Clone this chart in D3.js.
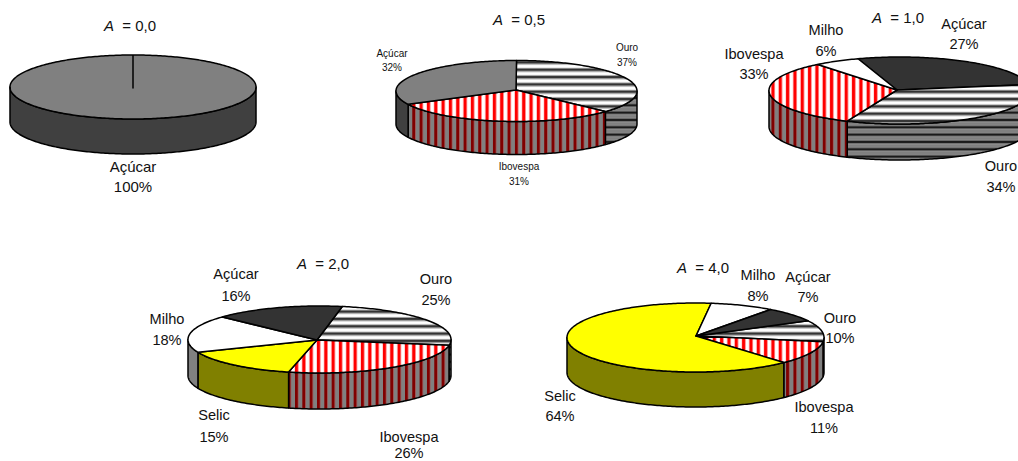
<!DOCTYPE html>
<html><head><meta charset="utf-8">
<script src="https://cdn.jsdelivr.net/npm/d3@7/dist/d3.min.js"></script>
<style>html,body{margin:0;padding:0;background:#fff;overflow:hidden}svg{display:block}text{font-family:"Liberation Sans",Arial,sans-serif;fill:#111}</style>
</head><body><script>
// data
const panelTitles = ["0,0", "0,5", "1,0", "2,0", "4,0"];
const panelAssets = [
  ["Açúcar"],
  ["Ouro", "Ibovespa", "Açúcar"],
  ["Açúcar", "Ouro", "Ibovespa", "Milho"],
  ["Ouro", "Ibovespa", "Selic", "Milho", "Açúcar"],
  ["Ouro", "Ibovespa", "Selic", "Milho", "Açúcar"]
];
const panelShares = [
  [100],
  [36.8, 31.0, 32.2],
  [27.4, 34.4, 32.6, 5.6],
  [25, 26, 15, 18, 16],
  [10, 11, 64, 8, 7]
];
const panelRotation = [0, 0, 341.3, 10, 61];

// layout
const panelGeometry = [
  {cx:133, cy:87, ax:133, ay:88, rx:123, ry:32, depth:35, title:[130,31], size:15},
  {cx:516.5, cy:91, ax:516, ay:90, rx:120.5, ry:30.5, depth:33, title:[519,25], size:10},
  {cx:900, cy:90.5, ax:897, ay:90, rx:131, ry:33.5, depth:36, title:[898,23], size:14.6},
  {cx:319.5, cy:339.5, ax:317, ay:340, rx:131.5, ry:33.5, depth:36, title:[323,269], size:14.6},
  {cx:695.5, cy:337.5, ax:696, ay:336, rx:128.5, ry:34.5, depth:35, title:[703,273], size:14.6}
];
// [x, name baseline, percent baseline]
const labelPlaces = [
  [[133,172,192]],
  [[627,51,66],[519,170,185],[392,57,71]],
  [[964,29,49],[1001,171,192],[754,59,79],[826,35,56]],
  [[436,284,305],[409,442,458],[214,420,442],[167,324,345],[236,279,301]],
  [[840,323,343],[824,412,433],[560,401,421],[758,280,301],[808,282,302]]
];
const darkTopPanels = [2, 3, 4];

const svg = d3.select("body").append("svg").attr("width",1018).attr("height",461);
const defs = svg.append("defs");
function stripes(id, vertical, offset, bands){
  const total = d3.sum(bands, b=>b[1]);
  const p = defs.append("pattern").attr("id",id).attr("patternUnits","userSpaceOnUse")
    .attr("width",vertical?total:10).attr("height",vertical?10:total)
    .attr("patternTransform",vertical?`translate(${offset},0)`:`translate(0,${offset})`);
  let pos = 0;
  bands.forEach(([col,size])=>{
    p.append("rect").attr("x",vertical?pos:0).attr("y",vertical?0:pos)
      .attr("width",vertical?size:10).attr("height",vertical?10:size).attr("fill",col);
    pos += size;
  });
}
stripes("ibovTop", true, 1.8, [["#ff0000",3.3],["#ffb0b0",0.5],["#ffffff",3.03],["#ffb0b0",0.5]]);
stripes("ibovSide", true, 1.8, [["#800000",3.4],["#808080",3.93]]);
stripes("ouroTop", false, 2.8, [["#333333",2.4],["#999999",1],["#ffffff",2.93],["#999999",1]]);
stripes("ouroSide", false, 1.8, [["#1a1a1a",2.4],["#666666",1],["#808080",2.93],["#666666",1]]);

function fills(name, panel){
  const dark = darkTopPanels.includes(panel);
  return {
    "Açúcar": dark ? ["#333333","#1a1a1a"] : ["#808080","#404040"],
    "Ouro": ["url(#ouroTop)","url(#ouroSide)"],
    "Ibovespa": ["url(#ibovTop)","url(#ibovSide)"],
    "Selic": ["#ffff00","#808000"],
    "Milho": ["#ffffff","#808080"]
  }[name];
}

const tau = 2*Math.PI;
panelShares.forEach((shares,i)=>{
  const g = panelGeometry[i];
  const assets = panelAssets[i];
  const start = panelRotation[i]*Math.PI/180;
  const x = d3.scaleLinear().domain([-1,1]).range([g.cx-g.rx,g.cx+g.rx]);
  const y = d3.scaleLinear().domain([-1,1]).range([g.cy-g.ry,g.cy+g.ry]);
  const line = d3.line();
  const arcPts = (a0,a1,dy=0)=>{
    const n = Math.max(2,Math.ceil(Math.abs(a1-a0)/(Math.PI/180)));
    return d3.range(n+1).map(k=>{
      const a = a0+(a1-a0)*k/n;
      return [x(Math.sin(a)), y(-Math.cos(a))+dy];
    });
  };
  const arcs = d3.pie().sort(null).startAngle(start).endAngle(start+tau)(shares);
  const panel = svg.append("g");
  // rim
  arcs.forEach((a,j)=>{
    [0,1].forEach(k=>{
      const lo = Math.max(a.startAngle, Math.PI/2+k*tau);
      const hi = Math.min(a.endAngle, 3*Math.PI/2+k*tau);
      if(hi<=lo) return;
      const pts = arcPts(lo,hi).concat(arcPts(hi,lo,g.depth));
      panel.append("path").attr("d",line(pts)+"Z")
        .attr("fill",fills(assets[j],i)[1])
        .attr("stroke","#000").attr("stroke-width",1.5).attr("stroke-linejoin","round");
    });
  });
  // top face
  arcs.forEach((a,j)=>{
    const pts = [[g.ax,g.ay]].concat(arcPts(a.startAngle,a.endAngle));
    panel.append("path").attr("d",line(pts)+"Z")
      .attr("fill",fills(assets[j],i)[0])
      .attr("stroke","#000").attr("stroke-width",1.5).attr("stroke-linejoin","round");
  });
  // labels
  const t = panel.append("text").attr("x",g.title[0]).attr("y",g.title[1])
    .attr("text-anchor","middle").attr("font-size",15);
  t.append("tspan").attr("font-style","italic").text("A");
  t.append("tspan").attr("dx",4).text(" = "+panelTitles[i]);
  assets.forEach((name,j)=>{
    const [lx,b1,b2] = labelPlaces[i][j];
    panel.append("text").attr("x",lx).attr("y",b1).attr("text-anchor","middle")
      .attr("font-size",g.size).text(name);
    panel.append("text").attr("x",lx).attr("y",b2).attr("text-anchor","middle")
      .attr("font-size",g.size).text(d3.format(".0f")(shares[j])+"%");
  });
});
</script></body></html>
